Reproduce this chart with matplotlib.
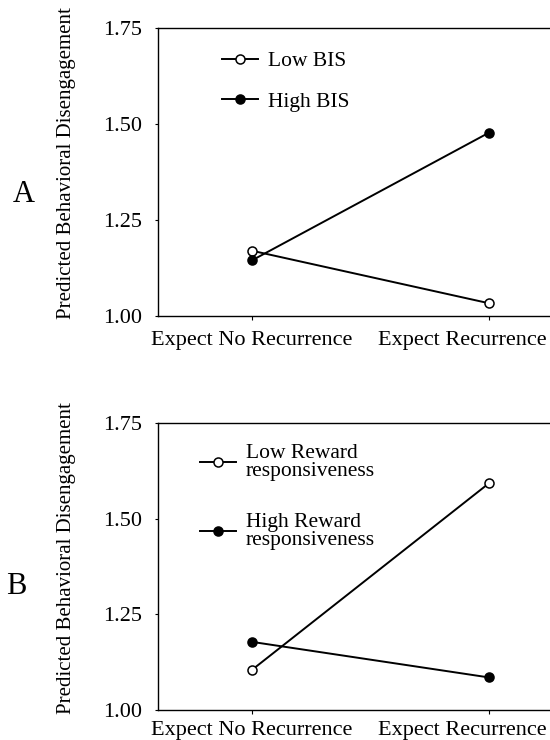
import matplotlib
matplotlib.use("Agg")
import matplotlib.pyplot as plt
from matplotlib.transforms import ScaledTranslation

categories = ["Expect No Recurrence", "Expect Recurrence"]
yticks = [1.00, 1.25, 1.50, 1.75]
ytick_labels = ["1.00", "1.25", "1.50", "1.75"]

a_low = [1.17, 1.033]
a_high = [1.145, 1.478]
a_labels = ["Low BIS", "High BIS"]

b_low = [1.105, 1.593]
b_high = [1.178, 1.085]
b_labels = ["Low Reward\nresponsiveness", "High Reward\nresponsiveness"]

ylabel = "Predicted Behavioral Disengagement"

plt.rcParams['font.family'] = ['Liberation Serif', 'DejaVu Serif']

fig = plt.figure(figsize=(5.5, 7.4), dpi=100)
axA = fig.add_axes([0.287, 0.573, 0.713, 0.389])
axB = fig.add_axes([0.287, 0.0405, 0.713, 0.388])

x = [0, 1]

def style(ax, low, high, labels, letter, letter_pos, leg_anchor, labelspacing, linesp, xpad):
    l1, = ax.plot(x, low, color='black', lw=1.4, marker='o', ms=6.5,
                  mfc='white', mec='black', mew=1.1, label=labels[0], zorder=3)
    l2, = ax.plot(x, high, color='black', lw=1.4, marker='o', ms=6.5,
                  mfc='black', mec='black', mew=1.1, label=labels[1], zorder=3)
    ax.set_xlim(-0.397, 1.256)
    ax.set_ylim(1.0, 1.75)
    ax.set_xticks(x)
    ax.set_xticklabels(categories, fontsize=16)
    ax.set_yticks(yticks)
    ax.set_yticklabels(ytick_labels, fontsize=16)
    ax.spines['right'].set_visible(False)
    for s in ['left', 'top', 'bottom']:
        ax.spines[s].set_linewidth(1.0)
    ax.tick_params(axis='y', direction='out', length=2.5, width=0.8, pad=9)
    ax.tick_params(axis='x', direction='out', length=3, width=0.8, pad=xpad)
    # shift the right-hand category label left so it fits in the figure
    lab = ax.get_xticklabels()[1]
    lab.set_transform(lab.get_transform() + ScaledTranslation(-27 / 100, 0, fig.dpi_scale_trans))
    ax.set_ylabel(ylabel, fontsize=15)
    ax.yaxis.set_label_coords(-0.209, 0.531)
    ax.text(letter_pos[0], letter_pos[1], letter, transform=ax.transAxes, fontsize=22,
            ha='center', va='center')
    leg = ax.legend(handles=[l1, l2], loc='upper left', bbox_to_anchor=leg_anchor,
                    frameon=False, fontsize=15.5, handlelength=1.7,
                    handletextpad=0.45, labelspacing=labelspacing,
                    borderpad=0, borderaxespad=0)
    for t in leg.get_texts():
        t.set_linespacing(linesp)
    return leg

style(axA, a_low, a_high, a_labels, 'A', (-0.342, 0.422), (0.163, 0.92), 0.94, 1.2, 8)
style(axB, b_low, b_high, b_labels, 'B', (-0.36, 0.429), (0.107, 0.925), 1.49, 0.9, 5)

fig.savefig("out.png", dpi=100)
